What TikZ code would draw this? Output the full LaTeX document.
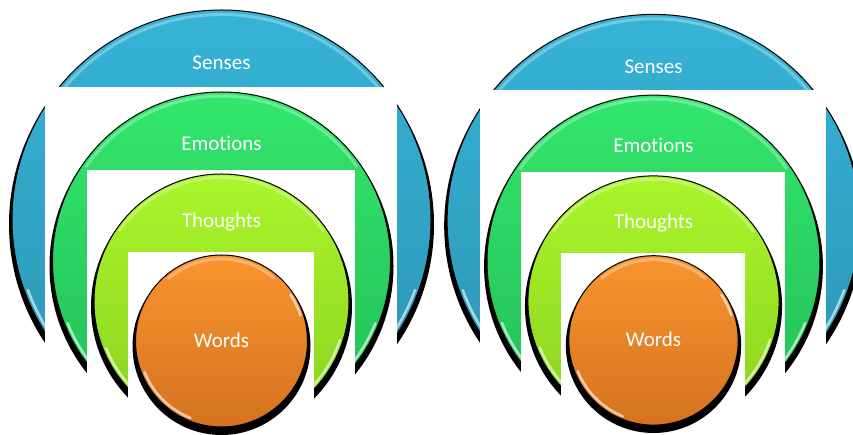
\documentclass[tikz,border=0pt]{standalone}
\usepackage{fontspec}
\setmainfont{Carlito}[Ligatures=NoCommon]

\definecolor{sensesTop}{HTML}{36B3D6}
\definecolor{sensesBot}{HTML}{2C94B3}
\definecolor{emoTop}{HTML}{33E66D}
\definecolor{emoBot}{HTML}{22BD55}
\definecolor{thoTop}{HTML}{AAF52B}
\definecolor{thoBot}{HTML}{8AD21F}
\definecolor{wordTop}{HTML}{F8952F}
\definecolor{wordBot}{HTML}{D5721F}

\begin{document}
\begin{tikzpicture}[x=1pt,y=1pt,
    shadow/.style={fill=black},
    rim/.style={draw=black,line width=1pt},
    gloss/.style={white,line width=3pt,opacity=.3,line cap=round},
    shine/.style={white,line width=2.5pt,opacity=.6,line cap=round},
    cover/.style={fill=white},
    lbl/.style={text=white,font=\fontsize{21}{23}\selectfont}]
    \useasboundingbox (0,0) rectangle (853,435);
    \clip (0,0) rectangle (853,435);
    \foreach \ox/\oy/\s [count=\i] in {221.5/0/1, 653.5/2/0.985}{
    \begin{scope}[shift={(\ox,\oy)},scale=\s]
        % senses
        \fill [shadow] (0,210.5) circle [radius=212.5];
        \shade [top color=sensesTop,bottom color=sensesBot] (0,215.5) circle [radius=209.5];
        \draw [rim] (0,215.5) circle [radius=209.5];
        \draw [gloss] (0,215.5) ++(35:205) arc [start angle=35,end angle=145,radius=205];
        \draw [shine] (0,215.5) ++(200:206) arc [start angle=200,end angle=232,radius=206];
        \draw [shine] (0,215.5) ++(308:206) arc [start angle=308,end angle=340,radius=206];
        \node [lbl] (senses\i) at (0,372) {Senses};
        \fill [cover] (-176.5,-10) rectangle (175.5,348);
        % emotions
        \fill [shadow] (0,169) circle [radius=172];
        \shade [top color=emoTop,bottom color=emoBot] (0,174) circle [radius=169];
        \draw [rim] (0,174) circle [radius=169];
        \draw [gloss] (0,174) ++(35:165) arc [start angle=35,end angle=145,radius=165];
        \draw [shine] (0,174) ++(202:166) arc [start angle=202,end angle=232,radius=166];
        \draw [shine] (0,174) ++(308:166) arc [start angle=308,end angle=338,radius=166];
        \node [lbl] (emotions\i) at (0,292) {Emotions};
        \fill [cover] (-134.5,-10) rectangle (133.5,265);
        % thoughts
        \fill [shadow] (0,128.5) circle [radius=130.5];
        \shade [top color=thoTop,bottom color=thoBot] (0,133.5) circle [radius=127.5];
        \draw [rim] (0,133.5) circle [radius=127.5];
        \draw [gloss] (0,133.5) ++(35:124) arc [start angle=35,end angle=145,radius=124];
        \draw [shine] (0,133.5) ++(202:124.5) arc [start angle=202,end angle=236,radius=124.5];
        \draw [shine] (0,133.5) ++(308:124.5) arc [start angle=308,end angle=342,radius=124.5];
        \node [lbl] (thoughts\i) at (0,213) {Thoughts};
        \fill [cover] (-93.5,-10) rectangle (92.5,183);
        % words
        \fill [shadow] (0,89) circle [radius=89];
        \shade [top color=wordTop,bottom color=wordBot] (0,94) circle [radius=86];
        \draw [rim] (0,94) circle [radius=86];
        \draw [gloss] (0,94) ++(50:82) arc [start angle=50,end angle=130,radius=82];
        \draw [shine] (0,94) ++(202:83) arc [start angle=202,end angle=248,radius=83];
        \draw [shine] (0,94) ++(18:83) arc [start angle=18,end angle=34,radius=83];
        \node [lbl] (words\i) at (0,95) {Words};
    \end{scope}}
\end{tikzpicture}
\end{document}
